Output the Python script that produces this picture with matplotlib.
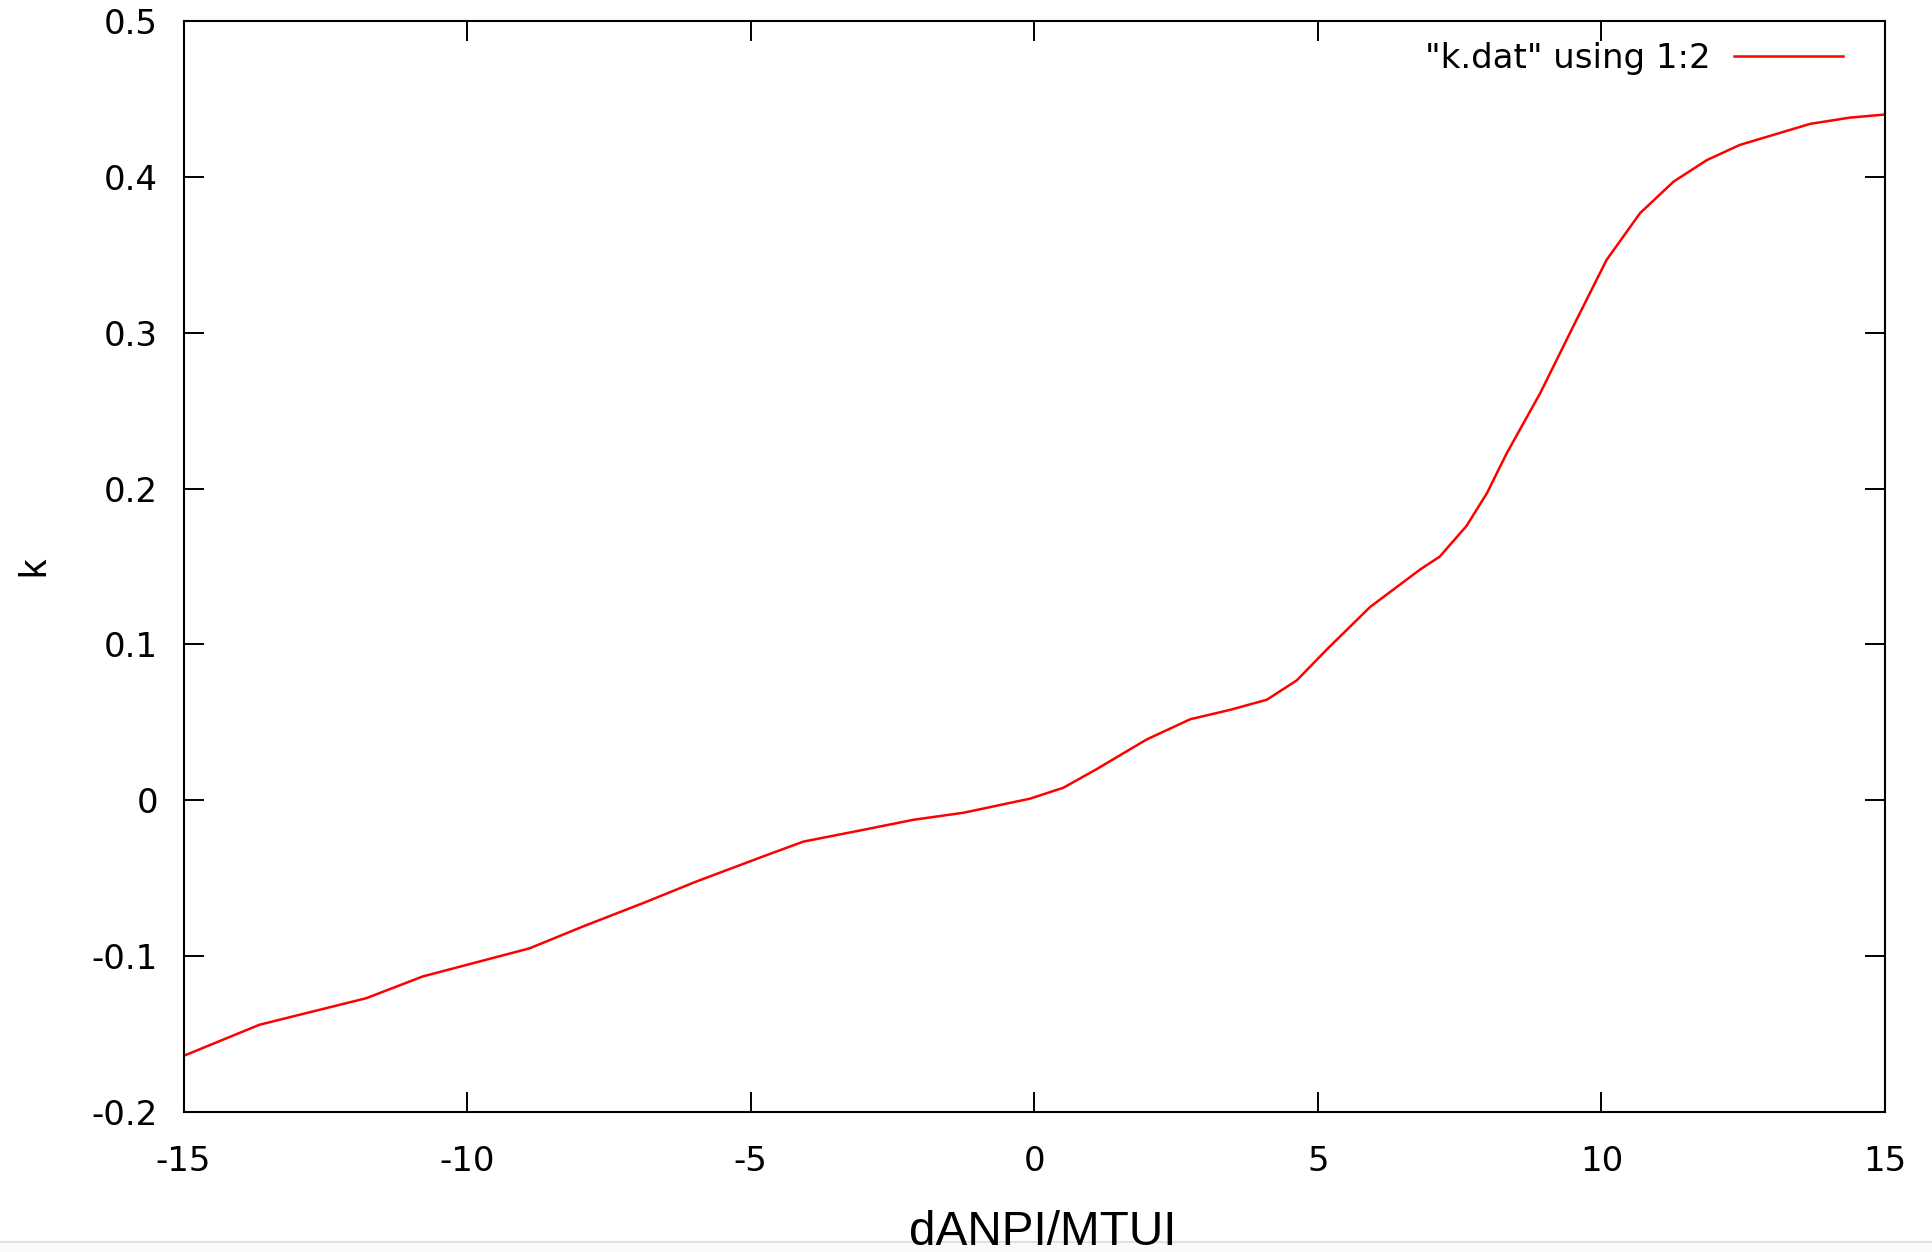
import matplotlib
matplotlib.use('Agg')
import matplotlib.pyplot as plt
from matplotlib.patches import Rectangle
from matplotlib.lines import Line2D

# curve (x = dANPI/MTUI, y = k)
x_vals = [-15.0, -13.66, -11.78, -10.78, -8.90, -7.96, -6.90, -5.95, -4.78,
          -4.07, -3.02, -2.13, -1.25, -0.08, 0.51, 1.10, 1.98, 2.75, 3.45,
          4.10, 4.63, 5.15, 5.92, 6.80, 7.15, 7.62, 7.98, 8.33, 8.92, 9.50,
          10.09, 10.68, 11.27, 11.86, 12.44, 13.68, 14.38, 15.0]
k_vals = [-0.164, -0.144, -0.127, -0.113, -0.095, -0.081, -0.066, -0.052, -0.036,
          -0.0265, -0.019, -0.0125, -0.008, 0.001, 0.008, 0.020, 0.039, 0.052, 0.058,
          0.0645, 0.077, 0.0965, 0.124, 0.148, 0.1564, 0.176, 0.197, 0.2227, 0.2612, 0.3039,
          0.3467, 0.3767, 0.3969, 0.4108, 0.4205, 0.434, 0.438, 0.440]

x_ticks = [-15, -10, -5, 0, 5, 10, 15]
x_tick_labels = ['-15', '-10', '-5', '0', '5', '10', '15']
y_ticks = [-0.2, -0.1, 0, 0.1, 0.2, 0.3, 0.4, 0.5]
y_tick_labels = ['-0.2', '-0.1', '0', '0.1', '0.2', '0.3', '0.4', '0.5']

series_label = '"k.dat" using 1:2'

plt.rcParams['font.family'] = ['DejaVu Sans']
plt.rcParams['axes.unicode_minus'] = False

fig = plt.figure(figsize=(19.32, 12.52), dpi=100)
ax = fig.add_axes([0.095, 1 - 1112 / 1252, 0.8807, 1091 / 1252])

ax.plot(x_vals, k_vals, color='#ff0000', linewidth=1.8, label=series_label)

ax.set_xlim(-15, 15)
ax.set_ylim(-0.2, 0.5)
ax.set_xticks(x_ticks)
ax.set_xticklabels(x_tick_labels)
ax.set_yticks(y_ticks)
ax.set_yticklabels(y_tick_labels)

ax.tick_params(direction='in', top=True, right=True, length=14.4, width=1.4,
               labelsize=24.5, colors='black')
ax.tick_params(axis='x', pad=23.5)
ax.tick_params(axis='y', pad=18.4)
for s in ax.spines.values():
    s.set_linewidth(1.5)

ax.set_xlabel('dANPI/MTUI', fontsize=34.4, family='Liberation Sans')
ax.xaxis.set_label_coords(0.505, -0.0898)
ax.set_ylabel('k', fontsize=28, family='Liberation Sans')
ax.yaxis.set_label_coords(-0.0773, 0.5)

ax.legend(loc='center right', bbox_to_anchor=(0.9753, 0.966), frameon=False,
          markerfirst=False, fontsize=24.5, borderpad=0, borderaxespad=0,
          handlelength=3.2, handletextpad=0.7)

# window edge at the bottom of the screenshot (drawn under the label)
fig.add_artist(Rectangle((0, 0), 1, 10 / 1252, transform=fig.transFigure,
                         facecolor='#fafafa', edgecolor='none', zorder=-2))
fig.add_artist(Line2D([0, 1], [10 / 1252, 10 / 1252], transform=fig.transFigure,
                      color='#dcdcdc', linewidth=1.2, zorder=-1))

fig.savefig('out.png', dpi=100)
